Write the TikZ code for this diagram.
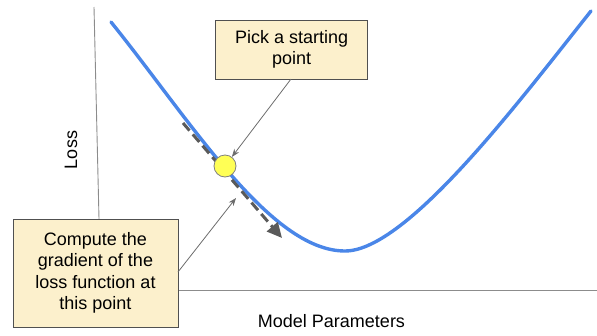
\documentclass[tikz,border=0pt]{standalone}
\usepackage{fontspec}
\setmainfont{Liberation Sans}
\usetikzlibrary{arrows.meta}
\definecolor{curveblue}{HTML}{4A86E8}
\definecolor{boxfill}{HTML}{FCF0CC}
\definecolor{boxline}{HTML}{505050}
\definecolor{dashgray}{HTML}{5A5A5A}
\definecolor{axisgray}{HTML}{8C8C8C}
\definecolor{ptyellow}{HTML}{FFFF55}
\begin{document}
\begin{tikzpicture}[x=1pt,y=-1pt,
  notebox/.style={draw=boxline, line width=0.9pt, fill=boxfill, inner sep=0pt, align=center,
    font=\fontsize{18}{21.5}\selectfont},
  axisline/.style={draw=axisgray, line width=0.9pt},
  lbl/.style={font=\fontsize{18}{21.5}\selectfont, inner sep=0pt},
  pointer/.style={draw=gray!85!black, line width=0.8pt, -{Stealth[length=8pt,width=6pt]}},
  gradarrow/.style={draw=dashgray, line width=3pt, dash pattern=on 10pt off 5pt,
    -{Triangle[length=15pt,width=14pt]}},
  losscurve/.style={draw=curveblue, line width=3.4pt, line cap=round}]
\useasboundingbox (0,0) rectangle (597,335);
% axes
\coordinate (yaxtop) at (94,7);
\coordinate (yaxbot) at (99.5,240);
\coordinate (xaxleft) at (150,290);
\coordinate (xaxright) at (597,290);
\draw[axisline] (yaxtop) -- (yaxbot);
\draw[axisline] (xaxleft) -- (xaxright);
% loss curve
\coordinate (cstart) at (111,22);
\coordinate (cmin) at (345,251);
\coordinate (cend) at (591,11);
\draw[losscurve] (cstart) .. controls (190,120) and (270,251) .. (cmin)
  .. controls (407,251) and (520,100) .. (cend);
% gradient arrow
\coordinate (gstart) at (183,123);
\coordinate (gend) at (282,238);
\draw[gradarrow] (gstart) -- (gend);
% starting point
\node[circle, draw=gray, line width=0.8pt, fill=ptyellow, minimum size=22pt, inner sep=0pt] (pt) at (225,166) {};
% boxes
\node[notebox, minimum width=152pt, minimum height=59pt] (pick) at (291.7,49.5) {Pick a starting\\point};
\node[notebox, minimum width=165pt, minimum height=108pt] (comp) at (95.5,273) {Compute the\\gradient of the\\loss function at\\this point};
% pointers
\coordinate (picktail) at (291,79);
\coordinate (comptail) at (178,272);
\coordinate (comphead) at (236,198);
\draw[pointer] (picktail) -- (pt);
\draw[pointer] (comptail) -- (comphead);
% labels
\node[lbl, rotate=90, anchor=base] (loss) at (77,150) {Loss};
\node[lbl, anchor=base] (params) at (331.5,327) {Model Parameters};
\end{tikzpicture}
\end{document}
